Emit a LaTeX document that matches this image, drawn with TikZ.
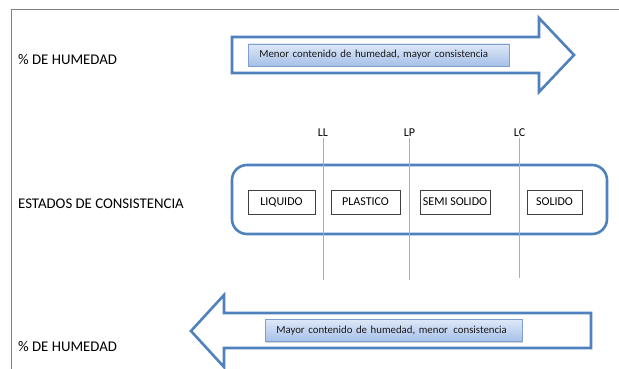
\documentclass[tikz,border=0pt]{standalone}
\usepackage{fontspec}
\setmainfont{Carlito}
\usetikzlibrary{shadows,shadings}
\definecolor{obl}{RGB}{79,129,189}
\definecolor{vline}{RGB}{149,179,215}
\definecolor{tbtop}{RGB}{222,232,248}
\definecolor{tbbot}{RGB}{166,192,232}
\definecolor{tbdraw}{RGB}{125,158,206}
\definecolor{frm}{RGB}{128,128,128}
\tikzset{
  bigarrow/.style={draw=obl, line width=2.6pt, line join=miter, fill=white},
  txtbox/.style={draw=tbdraw, line width=0.6pt, top color=tbtop, bottom color=tbbot,
     drop shadow={opacity=0.35, shadow xshift=1pt, shadow yshift=-1.5pt},
     minimum height=22pt, inner xsep=11pt, anchor=west, font=\fontsize{10.8}{12}\selectfont, text=black!90},
  statebox/.style={draw=black!75, line width=0.8pt, fill=white, minimum height=24pt, inner sep=0pt,
     font=\fontsize{12}{14}\selectfont},
  lbl/.style={anchor=base west, inner sep=0pt, font=\fontsize{14.8}{17}\selectfont},
  limlbl/.style={inner sep=1pt, anchor=south, font=\fontsize{12}{14}\selectfont},
  limline/.style={draw=vline, line width=1pt},
  rbox/.style={draw=obl, line width=2.6pt, rounded corners=15pt}
}
\begin{document}
\begin{tikzpicture}[x=1pt,y=-1pt]
\useasboundingbox[fill=white] (0,0) rectangle (619,369);
% frame
\draw[frm, line width=1pt] (11,369) -- (11,9.5) -- (619,9.5);
% left labels
\node[lbl] (h1) at (18,65) {\% DE HUMEDAD};
\node[lbl] (ec) at (18,208) {ESTADOS DE CONSISTENCIA};
\node[lbl] (h2) at (18,351.5) {\% DE HUMEDAD};
% top arrow
\draw[bigarrow] (232,37) -- (539,37) -- (539,18) -- (574,55) -- (539,92) -- (539,73) -- (232,73) -- cycle;
\node[txtbox, minimum width=261pt, align=left, text width=239pt] (t1) at (248,55) {Menor contenido de humedad, mayor consistencia};
% bottom arrow
\draw[bigarrow] (591,313) -- (224,313) -- (224,295) -- (191,331) -- (224,367) -- (224,348) -- (591,348) -- cycle;
\node[txtbox, minimum width=257pt, align=left, text width=235pt] (t2) at (265,330.5) {Mayor contenido de humedad, menor\hspace{0.5em}consistencia};
% states container
\draw[rbox] (232,165) rectangle (607,234);
\node[statebox, minimum width=67pt] (liq) at (281.5,202) {LIQUIDO};
\node[statebox, minimum width=69pt] (pla) at (365.5,202) {PLASTICO};
\node[statebox, minimum width=70pt] (sem) at (455,202) {SEMI SOLIDO};
\node[statebox, minimum width=55pt] (sol) at (554.5,202) {SOLIDO};
% limits
\node[limlbl] (LL) at (323,138) {LL};
\node[limlbl] (LP) at (409.5,138) {LP};
\node[limlbl] (LC) at (519.5,138) {LC};
\coordinate (LLe) at (323,280);
\coordinate (LPe) at (409.5,280);
\coordinate (LCe) at (519.5,278);
\draw[limline] (LL.south) -- (LLe);
\draw[limline] (LP.south) -- (LPe);
\draw[limline] (LC.south) -- (LCe);
\end{tikzpicture}
\end{document}
